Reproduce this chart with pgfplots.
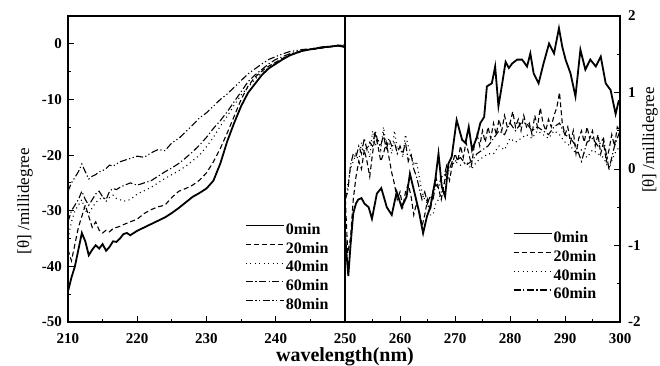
\documentclass[border=0pt]{standalone}
\usepackage{pgfplots}
\pgfplotsset{compat=1.18}
\usepackage{fontspec}
\setmainfont{Liberation Serif}
\tikzset{
  s0/.style={black, line width=1.8pt},
  s20/.style={black, line width=1.1pt, dash pattern=on 5pt off 3pt},
  s40/.style={black, line width=1.1pt, dash pattern=on 1pt off 3.5pt},
  s60/.style={black, line width=1.1pt, dash pattern=on 7pt off 2.5pt on 1.2pt off 2.5pt},
  s80/.style={black, line width=1.1pt, dash pattern=on 7pt off 2.5pt on 1.2pt off 2.5pt on 1.2pt off 2.5pt},
}
\pgfplotsset{
  common/.style={
    scale only axis, height=306pt,
    axis line style={line width=1.1pt},
    tick style={black, line width=0.9pt},
    tick align=inside,
    major tick length=6pt, minor tick length=3.5pt,
    minor tick num=1,
    xtick pos=bottom,
    ticklabel style={font=\bfseries\fontsize{15}{15}\selectfont},
    xticklabel style={inner sep=0pt, yshift=-11pt},
    legend cell align=left,
    legend style={draw=none, fill=none, inner sep=0pt, row sep=8pt,
      font=\bfseries\fontsize{16}{16}\selectfont,
      nodes={inner xsep=1pt, inner ysep=0pt, text height=10.8pt, text depth=0pt}},
    legend image code/.code={\draw[##1] (0pt,3.5pt) -- (38pt,3.5pt);},
  }
}
\begin{document}
\begin{tikzpicture}
\useasboundingbox (-68pt,-43pt) rectangle (592pt,322pt);
\begin{axis}[common, at={(0pt,0pt)}, anchor=south west, width=277pt,
  xmin=210, xmax=250, ymin=-50, ymax=5,
  xtick={210,220,230,240,250}, xticklabels={210,220,230,240,250},
  ytick={-50,-40,-30,-20,-10,0}, yticklabels={-50,-40,-30,-20,-10,0},
  ytick pos=left,
  yticklabel style={inner sep=0pt, xshift=-6pt},
  ylabel={[θ] /millidegree},
  ylabel style={at={(axis description cs:-0.155,0.395)}, anchor=center, font=\fontsize{17}{17}\selectfont},
  xlabel={wavelength(nm)},
  xlabel style={at={(axis description cs:1,0)}, anchor=base, inner sep=0pt, yshift=-39.5pt, font=\bfseries\fontsize{20}{20}\selectfont},
  legend style={at={(axis description cs:0.945,0.04)}, anchor=south east},
]
\addplot[s0] coordinates {
(210,-44.5)(210.5,-42)(211,-40)(211.5,-37)(212,-34)(212.5,-35.5)(213,-38)(213.5,-37)(214,-36.2)(214.5,-36.8)
(215,-36)(215.5,-37.2)(216,-36.5)(216.5,-35.5)(217,-35.6)(217.5,-35)(218,-34.2)(218.5,-34)(219,-34.4)(219.5,-34)
(220,-33.6)(221,-33)(222,-32.4)(223,-31.8)(224,-31.2)(225,-30.4)(226,-29.5)(227,-28.5)(228,-27.5)(229,-26.8)
(230,-26)(231,-24.6)(232,-21.5)(233,-17.5)(234,-14.2)(235,-11.2)(236,-8.8)(237,-7.2)(238,-5.6)(239,-4.4)
(240,-3.6)(241,-2.8)(242,-2.1)(243,-1.6)(244,-1.2)(245,-1.0)(246,-0.8)(247,-0.6)(248,-0.5)(249,-0.3)(250,-0.6)};
\addlegendentry{0min}
\addplot[s20] coordinates {
(210,-37)(210.5,-39)(211,-36)(211.5,-33)(212,-31)(212.5,-29)(213,-31)(213.5,-33)(214,-32)(214.5,-33.5)
(215,-34)(215.5,-33.5)(216,-33.8)(216.5,-33.2)(217,-33)(217.5,-32.8)(218,-32.5)(219,-32)(220,-31.5)(221,-30.5)
(222,-29.8)(223,-29.3)(224,-29)(225,-27.6)(226,-26.5)(227,-26)(228,-25.4)(229,-24.5)(230,-23.2)(231,-21.2)
(232,-18.8)(233,-16)(234,-13)(235,-10)(236,-7.6)(237,-6)(238,-4.9)(239,-4)(240,-3.3)(241,-2.6)
(242,-2.0)(243,-1.6)(244,-1.3)(245,-1.0)(246,-0.9)(247,-0.7)(248,-0.5)(249,-0.4)(250,-0.5)};
\addlegendentry{20min}
\addplot[s40] coordinates {
(210,-35)(210.5,-32)(211,-30)(211.5,-29)(212,-28)(212.5,-30)(213,-30.5)(213.5,-29.5)(214,-28.5)(214.5,-28)
(215,-27.5)(215.5,-28.3)(216,-27.6)(216.5,-27.2)(217,-27.8)(217.5,-28)(218,-28.3)(219,-28)(220,-27)(221,-26.4)
(222,-25.8)(223,-25)(224,-24.2)(225,-23.5)(226,-22.8)(227,-22)(228,-21)(229,-20)(230,-18.5)(231,-16.8)
(232,-14.8)(233,-13)(234,-11)(235,-9.2)(236,-7.8)(237,-6.4)(238,-5.2)(239,-4.3)(240,-3.4)(241,-2.7)
(242,-2.1)(243,-1.7)(244,-1.3)(245,-1.0)(246,-0.8)(247,-0.6)(248,-0.5)(249,-0.3)(250,-0.4)};
\addlegendentry{40min}
\addplot[s60] coordinates {
(210,-32)(210.5,-30)(211,-29)(211.5,-28)(212,-26.5)(212.5,-28)(213,-29)(213.5,-28)(214,-27)(214.5,-26.5)
(215,-27.5)(215.5,-28)(216,-26.5)(216.5,-26)(217,-26.2)(217.5,-25.8)(218,-25.5)(219,-25)(220,-25.4)(221,-25)
(222,-24.6)(223,-23.8)(224,-23)(225,-22.3)(226,-21.5)(227,-20.5)(228,-19.4)(229,-18.2)(230,-16.8)(231,-15.2)
(232,-13.8)(233,-12.2)(234,-10.4)(235,-8.6)(236,-6.8)(237,-5.6)(238,-4.6)(239,-3.6)(240,-2.8)(241,-2.3)
(242,-1.8)(243,-1.5)(244,-1.2)(245,-1.0)(246,-0.8)(247,-0.6)(248,-0.4)(249,-0.3)(250,-0.3)};
\addlegendentry{60min}
\addplot[s80] coordinates {
(210,-26.5)(210.5,-25)(211,-24)(211.5,-23)(212,-21.6)(212.5,-23)(213,-24.3)(213.5,-23.8)(214,-23.5)(214.5,-23)
(215,-22.8)(215.5,-22.4)(216,-21.8)(216.5,-22)(217,-21.6)(217.5,-21.2)(218,-21)(219,-20.6)(220,-20.2)(221,-20.4)
(222,-19.6)(223,-19)(224,-19.2)(225,-17.8)(226,-17)(227,-15.8)(228,-14.6)(229,-13.3)(230,-12.4)(231,-11.2)
(232,-10)(233,-9)(234,-7.8)(235,-6.6)(236,-5.4)(237,-4.5)(238,-3.6)(239,-2.8)(240,-2.3)(241,-1.8)
(242,-1.4)(243,-1.2)(244,-1.0)(245,-0.9)(246,-0.7)(247,-0.5)(248,-0.4)(249,-0.3)(250,-0.2)};
\addlegendentry{80min}
\end{axis}
\begin{axis}[common, at={(277pt,0pt)}, anchor=south west, width=275pt,
  xmin=250, xmax=300, ymin=-2, ymax=2,
  xtick={260,270,280,290,300}, xticklabels={260,270,280,290,300},
  minor xtick={255,265,275,285,295},
  ytick={-2,-1,0,1,2}, yticklabels={-2,-1,0,1,2},
  ytick pos=right, yticklabel pos=right,
  yticklabel style={inner sep=0pt, xshift=8pt},
  ylabel={[θ] /millidegree},
  ylabel style={at={(axis description cs:1.109,0.595)}, anchor=center, font=\fontsize{17}{17}\selectfont},
  legend style={at={(axis description cs:0.918,0.075)}, anchor=south east},
]
\addplot[s0] coordinates {
(250,-0.85)(250.6,-1.4)(251,-1.0)(251.5,-0.58)(252,-0.45)(252.4,-0.4)(253,-0.38)(253.5,-0.45)(254.3,-0.5)(254.9,-0.65)
(255.8,-0.32)(256.6,-0.25)(257.6,-0.5)(258.5,-0.6)(259.4,-0.3)(260.3,-0.5)(261.2,-0.36)(261.8,-0.06)(262.5,-0.27)(263.4,-0.54)
(264.2,-0.84)(264.9,-0.62)(265.5,-0.5)(266.4,-0.15)(267,0.2)(267.6,-0.23)(268.2,-0.36)(268.8,0.07)(269.4,0.16)(270.3,0.64)
(271.3,0.38)(271.9,0.34)(272.5,0.55)(273.1,0.25)(274,0.42)(274.6,0.6)(275.3,0.68)(275.8,1.08)(276.7,1.12)(277.3,1.34)
(277.9,0.82)(278.5,1.08)(279.2,1.4)(279.8,1.32)(280.4,1.38)(281.3,1.43)(282.2,1.43)(283.1,1.34)(283.7,1.51)(284.3,1.25)
(285.2,1.12)(286.1,1.38)(287.1,1.64)(288,1.51)(288.9,1.84)(289.5,1.6)(290.1,1.43)(291,1.25)(291.9,0.95)(292.8,1.56)
(293.7,1.3)(294.6,1.43)(295.6,1.34)(296.5,1.47)(297.4,1.12)(298.3,1.03)(299.2,0.72)(299.8,0.9)};
\addlegendentry{0min}
\addplot[s20] coordinates {
(250,-0.3)(250.5,-1.1)(251,-0.9)(251.5,-0.4)(252,-0.1)(252.5,0.1)(253,0.0)(253.5,0.25)(254,0.1)(254.5,-0.1)
(255,0.2)(255.5,0.45)(256,0.3)(256.5,0.1)(257,0.2)(257.5,0.35)(258,0.15)(258.5,-0.05)(259,-0.2)(259.5,-0.4)
(260,-0.3)(260.5,-0.5)(261,-0.3)(261.5,-0.2)(262,-0.35)(262.5,-0.6)(263,-0.45)(263.5,-0.55)(264,-0.75)(264.5,-0.6)
(265,-0.4)(265.5,-0.55)(266,-0.3)(266.5,-0.1)(267,-0.25)(267.5,-0.4)(268,-0.2)(268.5,0.0)(269,-0.15)(269.5,0.05)
(270,0.2)(270.5,0.1)(271,0.3)(271.5,0.15)(272,0.35)(272.5,0.2)(273,0.05)(273.5,0.3)(274,0.45)(274.5,0.3)
(275,0.5)(275.5,0.35)(276,0.55)(276.5,0.4)(277,0.6)(277.5,0.45)(278,0.65)(278.5,0.5)(279,0.7)(279.5,0.55)
(280,0.6)(280.5,0.75)(281,0.55)(281.5,0.65)(282,0.5)(282.5,0.7)(283,0.55)(283.5,0.6)(284,0.45)(284.5,0.7)
(285,0.55)(285.5,0.8)(286,0.6)(286.5,0.5)(287,0.65)(287.5,0.55)(288,0.7)(288.5,0.8)(289,1.0)(289.5,0.6)
(290,0.45)(290.5,0.55)(291,0.35)(291.5,0.5)(292,0.2)(292.5,0.4)(293,0.5)(293.5,0.35)(294,0.55)(294.5,0.4)
(295,0.5)(295.5,0.3)(296,0.45)(296.5,0.2)(297,0.35)(297.5,0.1)(298,0.25)(298.5,0.45)(299,0.3)(299.5,0.55)(300,0.5)};
\addlegendentry{20min}
\addplot[s40] coordinates {
(250,-0.5)(250.5,-0.2)(251,0.0)(251.5,0.1)(252,0.2)(252.5,0.1)(253,0.35)(253.5,0.2)(254,0.3)(254.5,0.15)
(255,0.5)(255.5,0.3)(256,0.4)(256.5,0.25)(257,0.55)(257.5,0.3)(258,0.35)(258.5,0.2)(259,0.5)(259.5,0.25)
(260,0.3)(260.5,0.15)(261,0.45)(261.5,0.3)(262,0.2)(262.5,0.05)(263,0.1)(263.5,-0.1)(264,-0.3)(264.5,-0.4)
(265,-0.45)(265.5,-0.6)(266,-0.6)(266.5,-0.45)(267,-0.4)(267.5,-0.3)(268,-0.2)(268.5,-0.1)(269,0.0)(269.5,0.05)
(270,0.1)(271,0.05)(272,0.1)(273,0.0)(274,0.1)(275,0.15)(276,0.2)(277,0.2)(278,0.3)(279,0.25)
(280,0.4)(281,0.35)(282,0.4)(283,0.45)(284,0.4)(285,0.5)(286,0.45)(287,0.4)(288,0.5)(289,0.45)
(290,0.35)(291,0.3)(292,0.2)(293,0.25)(294,0.15)(295,0.25)(296,0.2)(297,0.15)(298,0.0)(299,0.2)(300,0.3)};
\addlegendentry{40min}
\addplot[s60] coordinates {
(250,-0.4)(250.5,-0.3)(251,0.05)(251.5,0.2)(252,0.15)(252.5,0.3)(253,0.2)(253.5,0.4)(254,0.25)(254.5,0.35)
(255,0.3)(255.5,0.5)(256,0.35)(256.5,0.3)(257,0.45)(257.5,0.25)(258,0.4)(258.5,0.3)(259,0.35)(259.5,0.2)
(260,0.3)(260.5,0.2)(261,0.35)(261.5,0.1)(262,0.2)(262.5,0.0)(263,-0.1)(263.5,-0.25)(264,-0.4)(264.5,-0.3)
(265,-0.45)(265.5,-0.35)(266,-0.4)(266.5,-0.2)(267,-0.25)(267.5,-0.1)(268,-0.1)(268.5,0.05)(269,0.0)(269.5,0.1)
(270,0.1)(271,0.15)(272,0.05)(273,0.1)(274,0.2)(275,0.25)(276,0.3)(277,0.4)(278,0.5)(279,0.45)
(280,0.6)(281,0.5)(282,0.6)(283,0.6)(284,0.5)(285,0.55)(286,0.5)(287,0.45)(288,0.55)(289,0.6)
(290,0.45)(291,0.4)(292,0.3)(293,0.1)(294,0.35)(295,0.4)(296,0.3)(297,0.4)(298,0.0)(299,0.3)(300,0.5)};
\addlegendentry{60min}
\end{axis}
\end{tikzpicture}
\end{document}
